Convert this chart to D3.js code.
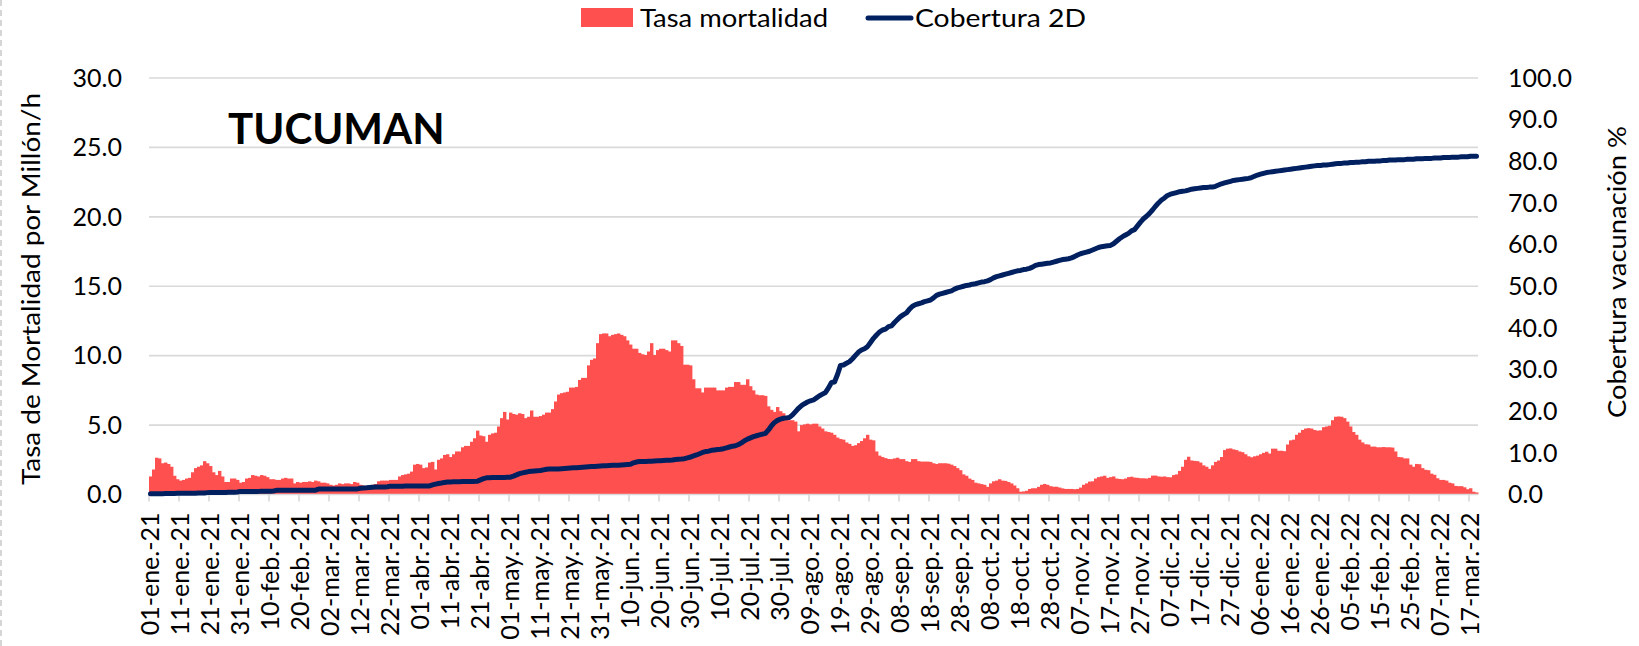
<!DOCTYPE html>
<html>
<head>
<meta charset="utf-8">
<script src="https://cdn.jsdelivr.net/npm/d3@7"></script>
<style>
    body { margin: 0; background: #fff; }
    svg text { font-family: Lato, "Open Sans", sans-serif; fill: #000; }
</style>
</head>
<body>
<div id="chart"></div>
<script>
// daily categories: 01-ene-21 .. 19-mar-22
const startDay = new Date(2021, 0, 1);
const endDay = new Date(2022, 2, 20);

const tickLabels = ["01-ene.-21","11-ene.-21","21-ene.-21","31-ene.-21","10-feb.-21","20-feb.-21","02-mar.-21","12-mar.-21",
    "22-mar.-21","01-abr.-21","11-abr.-21","21-abr.-21","01-may.-21","11-may.-21","21-may.-21","31-may.-21","10-jun.-21",
    "20-jun.-21","30-jun.-21","10-jul.-21","20-jul.-21","30-jul.-21","09-ago.-21","19-ago.-21","29-ago.-21","08-sep.-21",
    "18-sep.-21","28-sep.-21","08-oct.-21","18-oct.-21","28-oct.-21","07-nov.-21","17-nov.-21","27-nov.-21","07-dic.-21",
    "17-dic.-21","27-dic.-21","06-ene.-22","16-ene.-22","26-ene.-22","05-feb.-22","15-feb.-22","25-feb.-22","07-mar.-22",
    "17-mar.-22"];

const leftTicks = [0, 5, 10, 15, 20, 25, 30];
const rightTicks = [0, 10, 20, 30, 40, 50, 60, 70, 80, 90, 100];

// Tasa mortalidad (por millón/h), one value per day
const tasaMortalidad = [
    1.3,1.8,2.65,2.6,2.25,2.3,2.2,2.0,1.35,1.1,
    1.0,1.05,1.15,1.2,1.6,1.9,2.0,2.1,2.4,2.25,
    2.05,1.6,1.4,1.7,1.3,0.9,0.9,1.15,1.15,1.05,
    0.85,0.9,1.15,1.2,1.4,1.35,1.3,1.4,1.35,1.25,
    1.1,1.1,1.05,1.05,1.15,1.2,1.15,1.15,0.8,0.9,
    0.85,0.9,0.9,0.95,0.9,1.0,0.95,0.85,0.85,0.8,
    0.7,0.65,0.7,0.8,0.75,0.8,0.8,0.75,0.9,0.85,
    0.7,0.65,0.55,0.6,0.7,0.75,0.95,1.0,1.0,1.0,
    1.05,1.05,1.05,1.3,1.4,1.45,1.5,1.65,2.15,2.2,
    2.15,1.9,1.95,2.3,2.35,1.8,2.5,2.6,2.85,2.9,
    2.7,2.9,3.1,3.1,3.4,3.5,3.5,3.8,4.05,4.6,
    4.25,4.2,3.8,4.3,4.4,4.45,4.9,5.5,5.95,5.4,
    5.9,5.8,5.75,5.85,5.8,5.5,5.6,6.05,5.6,5.6,
    5.65,5.75,5.9,5.9,6.15,6.7,7.2,7.3,7.35,7.4,
    7.7,7.7,7.75,8.25,8.4,8.4,9.3,9.7,9.8,10.9,
    11.55,11.6,11.6,11.4,11.5,11.55,11.6,11.5,11.4,11.1,
    10.8,10.5,10.5,10.2,10.1,10.05,10.3,10.9,10.05,10.4,
    10.5,10.5,10.4,10.3,11.1,11.1,10.9,10.7,9.35,9.35,
    9.3,8.3,7.65,7.65,7.35,7.7,7.7,7.7,7.7,7.5,
    7.5,7.5,7.7,7.75,7.75,8.1,8.1,7.9,7.9,8.3,
    7.8,7.5,7.2,7.15,7.15,7.1,6.35,6.1,5.95,6.3,
    6.0,5.85,5.4,5.35,5.35,5.25,4.55,5.0,5.05,5.1,
    5.05,5.1,5.1,4.9,4.75,4.55,4.5,4.45,4.3,4.1,
    4.0,3.95,3.75,3.65,3.5,3.55,3.7,3.85,4.05,4.3,
    3.95,3.9,3.1,2.8,2.7,2.62,2.56,2.55,2.6,2.65,
    2.55,2.55,2.4,2.35,2.55,2.55,2.4,2.37,2.37,2.37,
    2.35,2.25,2.2,2.25,2.25,2.25,2.22,2.15,2.05,1.9,
    1.75,1.45,1.35,1.15,1.05,0.85,0.8,0.75,0.7,0.55,
    0.8,0.95,1.0,1.1,1.0,0.98,0.9,0.8,0.65,0.45,
    0.2,0.22,0.27,0.4,0.45,0.45,0.55,0.7,0.76,0.7,
    0.6,0.56,0.56,0.5,0.44,0.4,0.4,0.4,0.38,0.4,
    0.5,0.7,0.8,0.93,0.95,1.15,1.25,1.3,1.35,1.2,
    1.25,1.3,1.15,1.12,1.1,1.15,1.25,1.28,1.22,1.2,
    1.17,1.17,1.15,1.2,1.36,1.36,1.3,1.28,1.3,1.25,
    1.24,1.4,1.45,1.7,2.0,2.5,2.72,2.45,2.42,2.4,
    2.3,2.1,2.0,1.85,2.1,2.35,2.45,2.7,3.2,3.3,
    3.32,3.25,3.2,3.1,3.05,2.9,2.75,2.68,2.75,2.8,
    2.9,3.0,3.08,2.95,3.3,3.3,3.15,3.15,3.12,3.6,
    3.9,3.95,4.3,4.45,4.65,4.75,4.78,4.75,4.65,4.6,
    4.62,4.85,4.9,4.95,5.35,5.6,5.62,5.6,5.5,5.25,
    4.9,4.5,4.3,3.95,3.75,3.62,3.6,3.45,3.45,3.4,
    3.4,3.42,3.4,3.4,3.38,3.1,2.7,2.68,2.6,2.6,
    2.15,2.0,2.2,2.18,1.9,1.78,1.75,1.5,1.42,1.17,
    1.05,1.05,1.0,0.85,0.8,0.62,0.6,0.6,0.52,0.38,
    0.45,0.2,0.15
];

// Cobertura 2D (%), one value per day
const cobertura2D = [
    0.2,0.2,0.2,0.2,0.2,0.25,0.25,0.25,0.25,0.3,
    0.3,0.3,0.3,0.3,0.3,0.3,0.35,0.35,0.35,0.45,
    0.5,0.5,0.5,0.5,0.5,0.5,0.55,0.55,0.55,0.6,
    0.75,0.75,0.75,0.75,0.75,0.75,0.75,0.8,0.8,0.8,
    0.8,0.85,1.0,1.0,1.0,1.0,1.0,1.0,1.0,1.0,
    1.05,1.05,1.05,1.05,1.05,1.05,1.3,1.3,1.3,1.3,
    1.3,1.3,1.3,1.3,1.3,1.35,1.35,1.35,1.35,1.35,
    1.5,1.55,1.6,1.7,1.75,1.8,1.8,1.8,1.8,1.85,
    2.0,2.0,2.0,2.0,2.0,2.05,2.05,2.05,2.05,2.05,
    2.05,2.05,2.05,2.05,2.3,2.5,2.65,2.75,2.9,3.0,
    3.0,3.05,3.05,3.05,3.1,3.1,3.1,3.15,3.15,3.2,
    3.5,3.8,4.0,4.05,4.1,4.1,4.1,4.1,4.1,4.15,
    4.15,4.4,4.7,5.0,5.2,5.35,5.5,5.6,5.65,5.7,
    5.75,5.9,6.05,6.1,6.1,6.15,6.15,6.2,6.25,6.3,
    6.35,6.4,6.45,6.5,6.55,6.6,6.65,6.7,6.75,6.8,
    6.85,6.9,6.9,6.95,7.0,7.0,7.05,7.1,7.15,7.2,
    7.25,7.6,7.8,7.9,7.9,7.95,8.0,8.0,8.05,8.1,
    8.1,8.15,8.2,8.25,8.3,8.4,8.45,8.5,8.6,8.8,
    9.0,9.25,9.5,9.8,10.1,10.3,10.4,10.6,10.7,10.8,
    10.85,11.0,11.2,11.4,11.6,11.7,12.0,12.4,12.9,13.3,
    13.6,13.9,14.1,14.3,14.5,14.7,15.5,16.5,17.3,17.8,
    18.1,18.3,18.4,18.5,19.1,19.9,20.7,21.35,21.8,22.2,
    22.5,22.7,23.2,23.7,24.1,24.5,25.6,26.9,27.0,28.8,
    31.0,31.1,31.5,31.9,32.6,33.4,34.2,34.7,35.0,35.5,
    36.5,37.5,38.3,39.0,39.5,39.7,40.3,40.5,41.3,42.0,
    42.7,43.2,43.6,44.5,45.2,45.6,45.8,46.0,46.3,46.5,
    46.7,47.2,47.8,48.1,48.3,48.5,48.7,48.9,49.3,49.6,
    49.8,50.0,50.2,50.3,50.5,50.6,50.8,51.0,51.1,51.3,
    51.6,52.0,52.3,52.5,52.7,52.9,53.1,53.3,53.5,53.7,
    53.8,54.0,54.1,54.3,54.6,55.0,55.2,55.3,55.4,55.5,
    55.6,55.8,56.0,56.2,56.4,56.5,56.6,56.8,57.1,57.5,
    57.8,58.0,58.2,58.4,58.7,59.0,59.3,59.5,59.6,59.7,
    59.8,60.2,60.8,61.4,61.9,62.3,62.7,63.3,63.6,64.5,
    65.4,66.2,66.8,67.5,68.3,69.2,70.0,70.7,71.2,71.8,
    72.1,72.3,72.5,72.7,72.8,72.9,73.1,73.3,73.4,73.5,
    73.6,73.7,73.7,73.8,73.8,74.0,74.3,74.6,74.8,75.0,
    75.2,75.4,75.5,75.6,75.7,75.8,75.9,76.1,76.4,76.7,
    76.9,77.1,77.3,77.4,77.5,77.6,77.7,77.8,77.9,78.0,
    78.1,78.2,78.3,78.4,78.5,78.6,78.7,78.8,78.9,79.0,
    79.0,79.1,79.1,79.2,79.3,79.4,79.5,79.5,79.6,79.6,
    79.7,79.7,79.8,79.8,79.9,79.9,80.0,80.0,80.0,80.1,
    80.1,80.2,80.2,80.3,80.3,80.3,80.4,80.4,80.4,80.5,
    80.5,80.5,80.6,80.6,80.6,80.7,80.7,80.7,80.8,80.8,
    80.8,80.9,80.9,80.9,81.0,81.0,81.0,81.1,81.1,81.1,
    81.2,81.2,81.2
];

const width = 1639, height = 646;
const plot = { left: 149, right: 1478, top: 78, bottom: 494.5 };

const days = d3.timeDay.range(startDay, endDay);

const svg = d3.select("#chart")
    .append("svg")
    .attr("width", width)
    .attr("height", height)
    .style("background", "#fff");

// chart area border (left edge only visible in the crop)
svg.append("line")
    .attr("x1", 1).attr("x2", 1).attr("y1", 0).attr("y2", height)
    .attr("stroke", "#c8c8c8").attr("stroke-width", 1.5)
    .attr("stroke-dasharray", "6,4");

const x = d3.scaleBand()
    .domain(days)
    .range([plot.left, plot.right])
    .padding(0);

const yLeft = d3.scaleLinear().domain([0, 30]).range([plot.bottom, plot.top]);
const yRight = d3.scaleLinear().domain([0, 100]).range([plot.bottom, plot.top]);

// gridlines
svg.append("g")
    .selectAll("line")
    .data(leftTicks.filter(d => d > 0))
    .enter()
    .append("line")
    .attr("x1", plot.left).attr("x2", plot.right)
    .attr("y1", d => yLeft(d)).attr("y2", d => yLeft(d))
    .attr("stroke", "#d9d9d9").attr("stroke-width", 1.6);

// mortality columns
svg.append("g")
    .selectAll("rect")
    .data(tasaMortalidad)
    .enter()
    .append("rect")
    .attr("x", (d, i) => x(days[i]))
    .attr("y", d => yLeft(d))
    .attr("width", x.bandwidth() + 0.4)
    .attr("height", d => yLeft(0) - yLeft(d))
    .attr("fill", "#ff5050");

// x axis: ticks at the left edge of every 10th day
const tickDays = tickLabels.map((t, i) => days[i * 10]);
const xAxis = svg.append("g")
    .attr("transform", `translate(0, ${plot.bottom})`);

xAxis.append("line")
    .attr("x1", plot.left).attr("x2", plot.right)
    .attr("stroke", "#d9d9d9").attr("stroke-width", 1.6);

xAxis.selectAll("line.tick")
    .data(tickDays)
    .enter()
    .append("line")
    .attr("class", "tick")
    .attr("x1", d => x(d)).attr("x2", d => x(d))
    .attr("y1", 0).attr("y2", 7)
    .attr("stroke", "#d9d9d9").attr("stroke-width", 1.6);

xAxis.selectAll("text")
    .data(tickDays)
    .enter()
    .append("text")
    .attr("transform", d => `translate(${x(d) + x.bandwidth() / 2}, 18) rotate(-90)`)
    .attr("dy", "0.35em")
    .attr("text-anchor", "end")
    .style("font-size", "25px")
    .text((d, i) => tickLabels[i]);

// left axis labels
svg.append("g")
    .selectAll("text")
    .data(leftTicks)
    .enter()
    .append("text")
    .attr("x", 122)
    .attr("y", d => yLeft(d))
    .attr("dy", "0.35em")
    .attr("text-anchor", "end")
    .style("font-size", "25px")
    .text(d => d3.format(".1f")(d));

// right axis labels
svg.append("g")
    .selectAll("text")
    .data(rightTicks)
    .enter()
    .append("text")
    .attr("x", 1508)
    .attr("y", d => yRight(d))
    .attr("dy", "0.35em")
    .attr("text-anchor", "start")
    .style("font-size", "25px")
    .text(d => d3.format(".1f")(d));

// coverage line
const line = d3.line()
    .x((d, i) => x(days[i]) + x.bandwidth() / 2)
    .y(d => yRight(d));

svg.append("path")
    .datum(cobertura2D)
    .attr("d", line)
    .attr("fill", "none")
    .attr("stroke", "#002060")
    .attr("stroke-width", 5)
    .attr("stroke-linejoin", "round")
    .attr("stroke-linecap", "round");

// axis titles
svg.append("text")
    .attr("transform", `translate(31, 289) rotate(-90)`)
    .attr("dy", "0.35em")
    .attr("text-anchor", "middle")
    .attr("textLength", 392)
    .attr("lengthAdjust", "spacingAndGlyphs")
    .style("font-size", "25px")
    .text("Tasa de Mortalidad por Millón/h");

svg.append("text")
    .attr("transform", `translate(1617, 272) rotate(-90)`)
    .attr("dy", "0.35em")
    .attr("text-anchor", "middle")
    .attr("textLength", 292)
    .attr("lengthAdjust", "spacingAndGlyphs")
    .style("font-size", "25px")
    .text("Cobertura vacunación %");

// title inside plot
svg.append("text")
    .attr("x", 228)
    .attr("y", 144)
    .style("font-size", "42px")
    .style("font-weight", "bold")
    .text("TUCUMAN");

// legend
const legend = svg.append("g");
legend.append("rect")
    .attr("x", 581).attr("y", 8)
    .attr("width", 52).attr("height", 19)
    .attr("fill", "#ff5050");
legend.append("text")
    .attr("x", 640).attr("y", 18)
    .attr("dy", "0.35em")
    .attr("textLength", 188)
    .attr("lengthAdjust", "spacingAndGlyphs")
    .style("font-size", "25px")
    .text("Tasa mortalidad");
legend.append("line")
    .attr("x1", 868).attr("x2", 911)
    .attr("y1", 18).attr("y2", 18)
    .attr("stroke", "#002060").attr("stroke-width", 5)
    .attr("stroke-linecap", "round");
legend.append("text")
    .attr("x", 915).attr("y", 18)
    .attr("dy", "0.35em")
    .attr("textLength", 171)
    .attr("lengthAdjust", "spacingAndGlyphs")
    .style("font-size", "25px")
    .text("Cobertura 2D");
</script>
</body>
</html>
